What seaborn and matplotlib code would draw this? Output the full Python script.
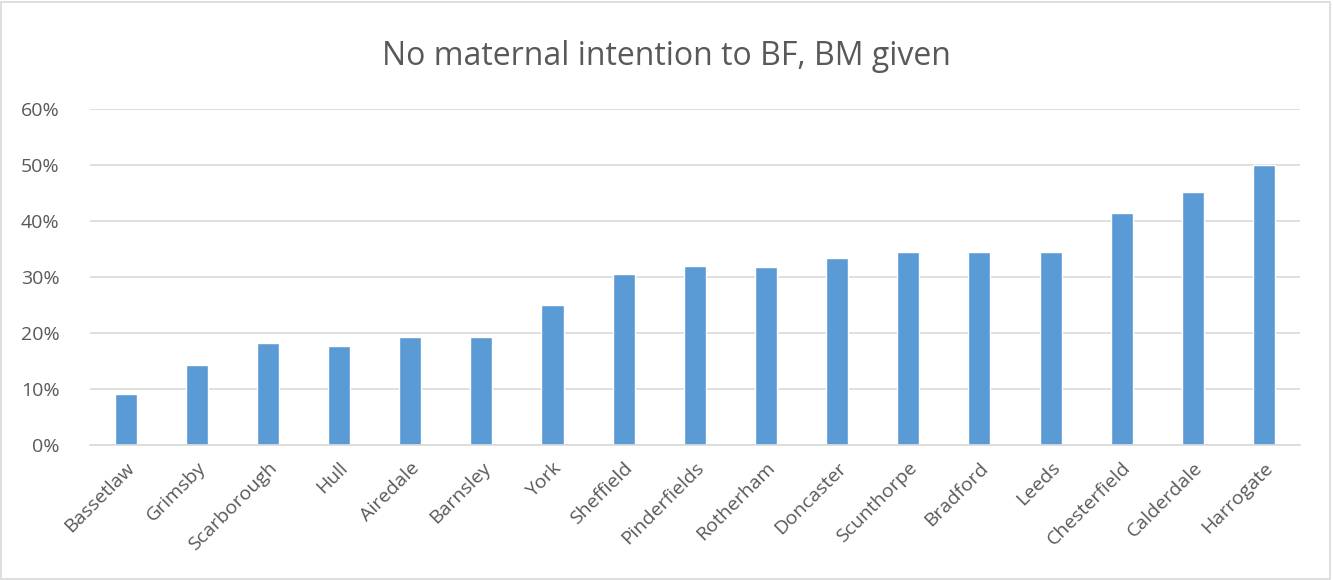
import matplotlib
matplotlib.use("Agg")
import matplotlib.pyplot as plt
import seaborn as sns
import pandas as pd
from matplotlib.ticker import PercentFormatter
from matplotlib.patches import Rectangle

categories = ["Bassetlaw", "Grimsby", "Scarborough", "Hull", "Airedale", "Barnsley", "York",
              "Sheffield", "Pinderfields", "Rotherham", "Doncaster", "Scunthorpe", "Bradford",
              "Leeds", "Chesterfield", "Calderdale", "Harrogate"]
values = [0.091, 0.143, 0.182, 0.176, 0.192, 0.192, 0.25,
          0.306, 0.32, 0.317, 0.333, 0.345, 0.345,
          0.345, 0.414, 0.452, 0.50]
title = "No maternal intention to BF, BM given"

df = pd.DataFrame({"site": categories, "value": values})

sns.set_theme(style="white")
plt.rcParams['font.family'] = ['Open Sans', 'DejaVu Sans']

fig = plt.figure(figsize=(13.33, 5.8), dpi=100)
ax = fig.add_axes([0.0675, 0.233, 0.9075, 0.579])

sns.barplot(data=df, x="site", y="value", color="#5B9BD5", width=0.31, ax=ax,
            saturation=1, errorbar=None)

ax.set_ylim(0, 0.6)
ax.set_yticks([0, 0.1, 0.2, 0.3, 0.4, 0.5, 0.6])
ax.yaxis.set_major_formatter(PercentFormatter(1.0, decimals=0))
ax.grid(axis="y", color="#d9d9d9", linewidth=1.2)
ax.set_axisbelow(True)
for s in ["top", "right", "left"]:
    ax.spines[s].set_visible(False)
ax.spines["bottom"].set_color("#d9d9d9")
ax.spines["bottom"].set_linewidth(1.2)
ax.set_xlim(-0.5, len(categories) - 0.5)
ax.set_xlabel("")
ax.set_ylabel("")
ax.tick_params(axis="y", length=0, labelsize=14, labelcolor="#595959", pad=22)
ax.tick_params(axis="x", length=0, labelsize=14, labelcolor="#595959", pad=10)
plt.setp(ax.get_xticklabels(), rotation=45, ha="right", rotation_mode="anchor")

fig.text(0.5, 0.903, title, ha="center", va="center", fontsize=23, color="#595959")

fig.patches.append(Rectangle((0.001, 0.002), 0.997, 0.995, transform=fig.transFigure,
                             fill=False, edgecolor="#d9d9d9", linewidth=1.2))

fig.savefig("out.png", dpi=100)
